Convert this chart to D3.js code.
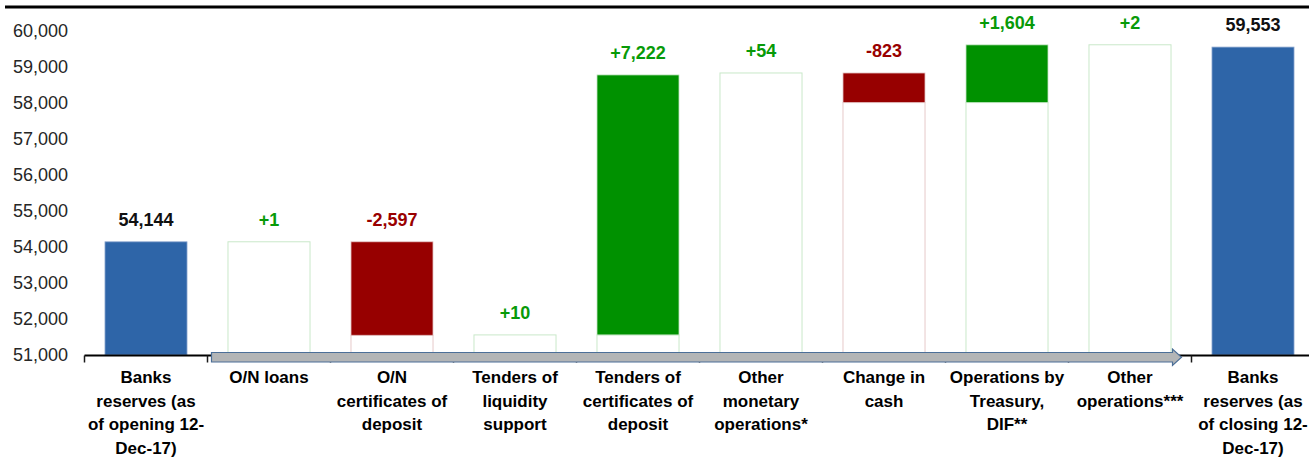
<!DOCTYPE html>
<html>
<head>
<meta charset="utf-8">
<script src="https://cdn.jsdelivr.net/npm/d3@7"></script>
<style>
    body { margin: 0; background: #fff; }
    #chart-area { width: 1309px; height: 457px; overflow: hidden; }
    text { font-family: "Liberation Sans", Arial, sans-serif; }
</style>
</head>
<body>
<div id="chart-area"></div>
<script>

// category labels, one entry per bar (lines split by "|")
const categories = [
    "Banks|reserves (as|of opening 12-|Dec-17)",
    "O/N loans",
    "O/N|certificates of|deposit",
    "Tenders of|liquidity|support",
    "Tenders of|certificates of|deposit",
    "Other|monetary|operations*",
    "Change in|cash",
    "Operations by|Treasury,|DIF**",
    "Other|operations***",
    "Banks|reserves (as|of closing 12-|Dec-17)"
];

const openingValue = 54144;
const changes = [1, -2597, 10, 7222, 54, -823, 1604, 2];
const closingValue = 59553;

const yTicks = [51000, 52000, 53000, 54000, 55000, 56000, 57000, 58000, 59000, 60000];

class WaterfallChart {

    constructor(_parentElement) {
        this.parentElement = _parentElement;
        this.displayData = [];

        // build the floating bars from the running total
        let running = openingValue;
        this.displayData.push({cat: categories[0], type: "total", from: yTicks[0], to: openingValue, value: openingValue});
        changes.forEach((c, i) => {
            this.displayData.push({cat: categories[i + 1], type: c >= 0 ? "up" : "down", from: running, to: running + c, value: c});
            running += c;
        });
        this.displayData.push({cat: categories[categories.length - 1], type: "total", from: yTicks[0], to: closingValue, value: closingValue});

        this.initVis();
    }

    initVis() {
        let vis = this;

        vis.svg = d3.select("#" + vis.parentElement).append("svg")
            .attr("width", 1309)
            .attr("height", 457);

        vis.x = d3.scaleBand()
            .domain(categories)
            .range([84.5, 1314.5])
            .paddingInner(0.325)
            .paddingOuter(0.1625);

        vis.y = d3.scaleLinear()
            .domain([51000, 60000])
            .range([355, 31]);

        vis.colors = {total: "#2e65a8", up: "#009100", down: "#970000"};
        vis.labelColors = {total: "#111", up: "#089a08", down: "#990000"};
        vis.outline = {total: "#8aa6cf", up: "#c9e8c9", down: "#e6c9c9"};

        // small moves are shown only as an outlined box (as in the source chart)
        let isSmall = d => d.type !== "total" && Math.abs(d.value) < 100;
        let fmtChange = v => (v >= 0 ? "+" : "-") + d3.format(",")(Math.abs(v));

        let step = vis.x.step();
        let gap = (step - vis.x.bandwidth()) / 2;

        // top rule
        vis.svg.append("line")
            .attr("x1", 5).attr("x2", 1309)
            .attr("y1", 7).attr("y2", 7)
            .attr("stroke", "#000")
            .attr("stroke-width", 3);

        // y axis labels (no axis line)
        vis.svg.append("g")
            .selectAll("text")
            .data(yTicks)
            .join("text")
            .attr("x", 68)
            .attr("y", d => vis.y(d))
            .attr("dy", "0.36em")
            .attr("text-anchor", "end")
            .attr("font-size", 18)
            .attr("fill", "#262626")
            .text(d3.format(","));

        // white base under each floating bar
        vis.svg.append("g")
            .selectAll("rect")
            .data(vis.displayData.filter(d => d.type !== "total"))
            .join("rect")
            .attr("x", d => vis.x(d.cat) + 0.5)
            .attr("width", vis.x.bandwidth() - 1)
            .attr("y", d => vis.y(isSmall(d) ? Math.max(d.from, d.to) : Math.min(d.from, d.to)))
            .attr("height", d => vis.y(yTicks[0]) - vis.y(isSmall(d) ? Math.max(d.from, d.to) : Math.min(d.from, d.to)))
            .attr("fill", "#fff")
            .attr("stroke", d => vis.outline[d.type])
            .attr("stroke-width", 1);

        // bars
        vis.svg.append("g")
            .selectAll("rect")
            .data(vis.displayData.filter(d => !isSmall(d)))
            .join("rect")
            .attr("x", d => vis.x(d.cat) + 0.5)
            .attr("width", vis.x.bandwidth() - 1)
            .attr("y", d => vis.y(Math.max(d.from, d.to)))
            .attr("height", d => Math.abs(vis.y(d.from) - vis.y(d.to)))
            .attr("fill", d => vis.colors[d.type])
            .attr("stroke", d => vis.outline[d.type])
            .attr("stroke-width", 0.8);

        // value labels
        vis.svg.append("g")
            .selectAll("text")
            .data(vis.displayData)
            .join("text")
            .attr("x", d => vis.x(d.cat) + vis.x.bandwidth() / 2)
            .attr("y", d => vis.y(Math.max(d.from, d.to)) - 16)
            .attr("text-anchor", "middle")
            .attr("font-size", 18)
            .attr("font-weight", "bold")
            .attr("fill", d => vis.labelColors[d.type])
            .text(d => d.type === "total" ? d3.format(",")(d.value) : fmtChange(d.value));

        // category axis: black line + ticks at band boundaries
        let axisY = vis.y(yTicks[0]) + 0.5;
        vis.svg.append("line")
            .attr("x1", vis.x.range()[0]).attr("x2", 1309)
            .attr("y1", axisY).attr("y2", axisY)
            .attr("stroke", "#000")
            .attr("stroke-width", 2);

        vis.svg.append("g")
            .selectAll("line")
            .data(d3.range(categories.length + 1))
            .join("line")
            .attr("x1", i => vis.x.range()[0] + i * step)
            .attr("x2", i => vis.x.range()[0] + i * step)
            .attr("y1", axisY)
            .attr("y2", axisY + 7)
            .attr("stroke", "#1a1a1a")
            .attr("stroke-width", 1.5);

        // grey arrow across the flows
        let ax0 = vis.x(categories[1]) - gap + 4;
        let tip = vis.x(categories[categories.length - 1]) - gap - 10;
        let headStart = tip - 9;
        let top = axisY - 3, bot = axisY + 6.5;
        let arrow = d3.path();
        arrow.moveTo(ax0, top);
        arrow.lineTo(headStart, top);
        arrow.lineTo(headStart, top - 3.5);
        arrow.lineTo(tip, (top + bot) / 2);
        arrow.lineTo(headStart, bot + 3.5);
        arrow.lineTo(headStart, bot);
        arrow.lineTo(ax0, bot);
        arrow.closePath();
        vis.svg.append("path")
            .attr("d", arrow.toString())
            .attr("fill", "#b3b5b6")
            .attr("stroke", "#4c6f98")
            .attr("stroke-width", 1.2);

        // category labels
        vis.svg.append("g")
            .selectAll("text")
            .data(categories)
            .join("text")
            .attr("x", d => vis.x(d) + vis.x.bandwidth() / 2)
            .attr("y", 383)
            .attr("text-anchor", "middle")
            .attr("font-size", 17)
            .attr("font-weight", "bold")
            .attr("fill", "#000")
            .selectAll("tspan")
            .data(d => d.split("|"))
            .join("tspan")
            .attr("x", function() { return d3.select(this.parentNode).attr("x"); })
            .attr("dy", (d, i) => i === 0 ? 0 : 23.5)
            .text(d => d);
    }
}

new WaterfallChart("chart-area");
</script>
</body>
</html>
